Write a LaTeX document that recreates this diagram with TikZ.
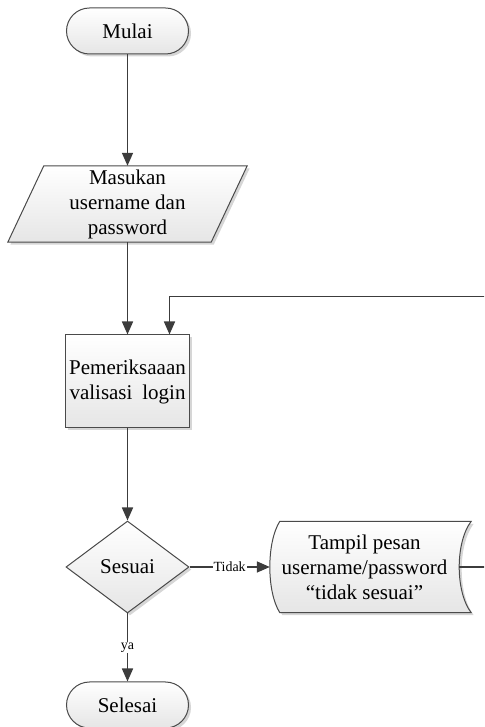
\documentclass[tikz,border=0pt]{standalone}
\usepackage{fontspec}
\setmainfont{Liberation Serif}
\usetikzlibrary{arrows.meta,shapes.geometric,shapes.misc,shadows,backgrounds}
\definecolor{linegray}{HTML}{3C3C3C}
\definecolor{edgegray}{HTML}{4A4A4A}
\tikzset{
  flowline/.style={draw=linegray, line width=1.6pt},
  arrowline/.style={flowline, -{Triangle[length=13pt,width=11pt]}},
  shapefill/.style={draw=edgegray, line width=1pt, top color=white, bottom color=black!10,
    drop shadow={shadow xshift=2.5pt, shadow yshift=-2.5pt, fill=black!16, opacity=1}},
  maintext/.style={align=center, font=\fontsize{21}{25}\selectfont},
  term/.style={shapefill, maintext, rounded rectangle, minimum width=122pt, minimum height=46pt, inner sep=0pt},
  procbox/.style={shapefill, maintext, rectangle, minimum width=124pt, minimum height=93pt, inner sep=0pt},
  decision/.style={shapefill, maintext, diamond, minimum width=123pt, minimum height=92pt, inner sep=0pt},
  holder/.style={maintext, rectangle, inner sep=0pt},
  textlabel/.style={fill=white, inner sep=1pt, font=\fontsize{14}{16}\selectfont}
}
\begin{document}
\begin{tikzpicture}[x=1pt,y=1pt]
  \useasboundingbox (0,0) rectangle (484,727);
  \clip (0,0) rectangle (484,727);

  % flowchart nodes
  \node[term] (start) at (127.5,696) {Mulai};
  \node[holder, minimum width=203pt, minimum height=76pt] (input) at (127.5,523)
    {Masukan\\username dan\\password};
  \node[procbox] (check) at (127.5,345.5)
    {\makebox[116pt][c]{Pemeriksaaan}\\\makebox[116pt][s]{valisasi\hspace{0pt plus 1fil} login}};
  \node[decision] (match) at (127.5,160) {Sesuai};
  \node[holder, minimum width=189pt, minimum height=91pt] (msg) at (364.5,160)
    {Tampil pesan\\username/password\\“tidak sesuai”};
  \node[term] (finish) at (127.5,22) {Selesai};

  % outlines of the data-input and stored-data shapes
  \begin{scope}[on background layer]
    \path[shapefill]
      ([xshift=18pt]input.north west) -- ([xshift=18pt]input.north east)
      -- ([xshift=-18pt]input.south east) -- ([xshift=-18pt]input.south west) -- cycle;
    \path[shapefill]
      ([xshift=10pt]msg.south west) -- ([xshift=12pt]msg.south east)
      .. controls ([xshift=-4pt,yshift=21pt]msg.south east) and ([xshift=-4pt,yshift=-21pt]msg.north east)
      .. ([xshift=12pt]msg.north east) -- ([xshift=10pt]msg.north west)
      .. controls ([xshift=-3.3pt,yshift=-21pt]msg.north west) and ([xshift=-3.3pt,yshift=21pt]msg.south west)
      .. cycle;
  \end{scope}

  % connectors
  \draw[arrowline] (start.south) -- (input.south |- input.north);
  \draw[arrowline] (input.south) -- (check.north);
  \draw[arrowline] (check.south) -- (match.north);
  \draw[arrowline] (match.east) -- node[textlabel] {Tidak} (msg.west);
  \draw[arrowline] (match.south) -- node[textlabel] {ya} (finish.north);
  \draw[arrowline] (msg.east) -- ++(40,0) |- ([xshift=42pt,yshift=38pt]check.north)
    -- ([xshift=42pt]check.north);
\end{tikzpicture}
\end{document}
